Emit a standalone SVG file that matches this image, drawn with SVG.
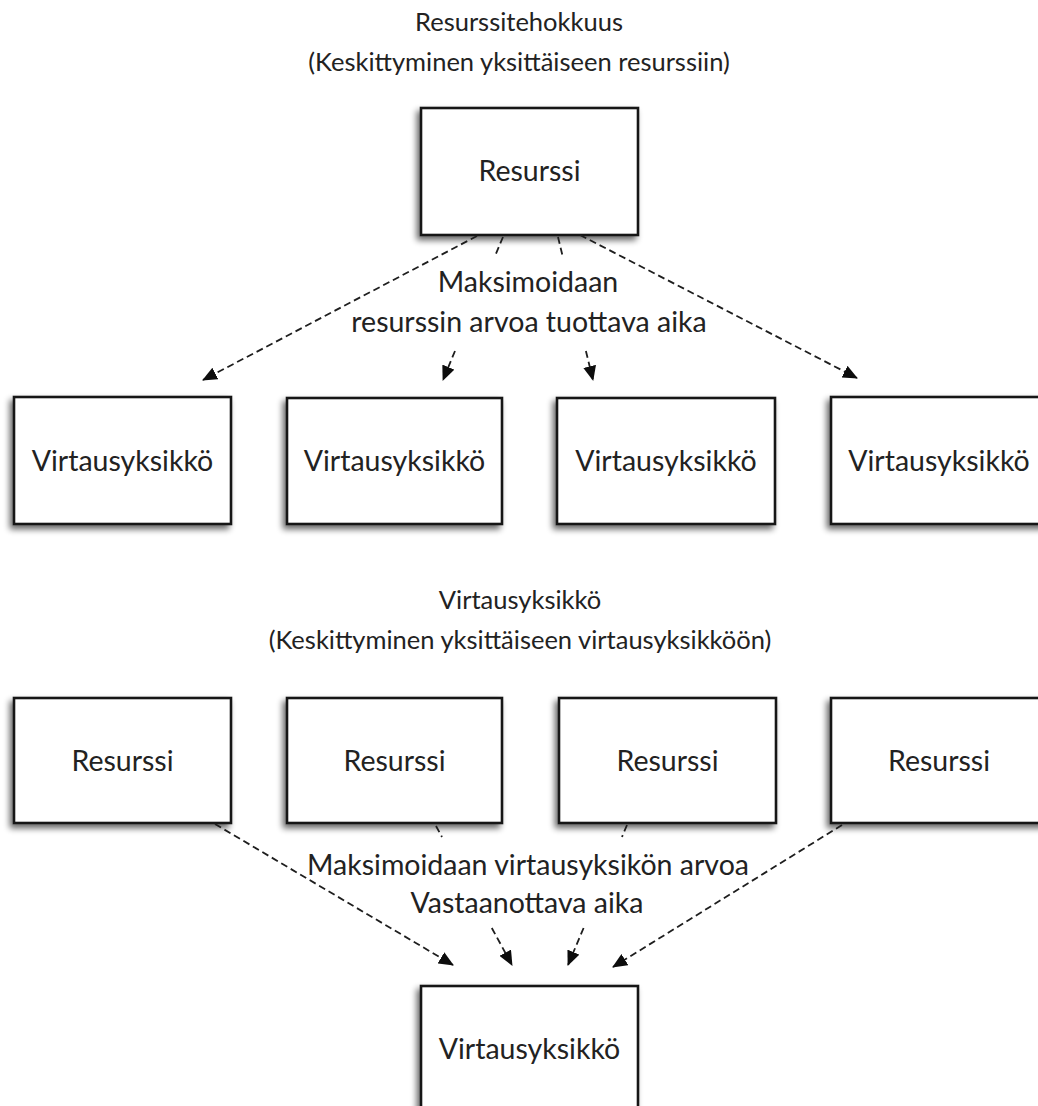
<svg xmlns="http://www.w3.org/2000/svg" width="1038" height="1106" viewBox="0 0 1038 1106">
  <style>
    .box { fill: #ffffff; stroke: #151515; stroke-width: 2.6; filter: url(#shadow); }
    .lbl { font-family: Lato, "Liberation Sans", sans-serif; font-size: 28.5px; fill: #222222; text-anchor: middle; }
    .head { font-size: 25.5px; }
    .conn { fill: none; stroke: #1e1e1e; stroke-width: 1.8; stroke-dasharray: 7 4; marker-end: url(#arrow); }
  </style>
  <defs>
    <filter id="shadow" x="-20%" y="-20%" width="140%" height="140%">
      <feGaussianBlur in="SourceAlpha" stdDeviation="3.2"/>
      <feOffset dx="-3" dy="4" result="blur"/>
      <feComponentTransfer>
        <feFuncA type="linear" slope="0.6"/>
      </feComponentTransfer>
      <feMerge>
        <feMergeNode/>
        <feMergeNode in="SourceGraphic"/>
      </feMerge>
    </filter>
    <marker id="arrow" viewBox="0 0 15 13" refX="14" refY="6.5" markerWidth="15" markerHeight="13" markerUnits="userSpaceOnUse" orient="auto">
      <path d="M0,0 L15,6.5 L0,13 z" fill="#0d0d0d"/>
    </marker>
  </defs>

  <rect width="1038" height="1106" fill="#ffffff"/>

  <!-- section headings -->
  <g id="heading-resource">
    <text class="lbl head" x="519" y="31">Resurssitehokkuus</text>
    <text class="lbl head" x="519" y="71">(Keskittyminen yksittäiseen resurssiin)</text>
  </g>
  <g id="heading-flow">
    <text class="lbl head" x="520" y="609">Virtausyksikkö</text>
    <text class="lbl head" x="520" y="649">(Keskittyminen yksittäiseen virtausyksikköön)</text>
  </g>

  <!-- upper section: one resource feeding four flow units -->
  <g id="n-resource-top">
    <rect class="box" x="421" y="108" width="217" height="127"/>
    <text class="lbl" x="529.5" y="181">Resurssi</text>
  </g>
  <g id="n-flow-1">
    <rect class="box" x="14" y="397" width="217" height="127"/>
    <text class="lbl" x="122.5" y="471">Virtausyksikkö</text>
  </g>
  <g id="n-flow-2">
    <rect class="box" x="287" y="398" width="215" height="126"/>
    <text class="lbl" x="394.5" y="471">Virtausyksikkö</text>
  </g>
  <g id="n-flow-3">
    <rect class="box" x="557" y="398" width="218" height="126"/>
    <text class="lbl" x="666" y="471">Virtausyksikkö</text>
  </g>
  <g id="n-flow-4">
    <rect class="box" x="831" y="397" width="216" height="127"/>
    <text class="lbl" x="939" y="471">Virtausyksikkö</text>
  </g>

  <!-- lower section: four resources feeding one flow unit -->
  <g id="n-resource-1">
    <rect class="box" x="14" y="698" width="217" height="125"/>
    <text class="lbl" x="122.5" y="771">Resurssi</text>
  </g>
  <g id="n-resource-2">
    <rect class="box" x="287" y="698" width="215" height="125"/>
    <text class="lbl" x="394.5" y="771">Resurssi</text>
  </g>
  <g id="n-resource-3">
    <rect class="box" x="559" y="698" width="217" height="125"/>
    <text class="lbl" x="667.5" y="771">Resurssi</text>
  </g>
  <g id="n-resource-4">
    <rect class="box" x="831" y="698" width="216" height="125"/>
    <text class="lbl" x="939" y="771">Resurssi</text>
  </g>
  <g id="n-flow-bottom">
    <rect class="box" x="421" y="986" width="217" height="127"/>
    <text class="lbl" x="529.5" y="1059">Virtausyksikkö</text>
  </g>

  <!-- connectors; the two inner ones break around the label text -->
  <g id="connectors">
    <path class="conn" d="M477,236 L203,380"/>
    <path class="conn" d="M503,237 L495,256 M455,351 L443,380"/>
    <path class="conn" d="M558,237 L562.6,256 M585.9,351 L593,380"/>
    <path class="conn" d="M580,235 L857,378"/>

    <path class="conn" d="M215,824 L453,965"/>
    <path class="conn" d="M436,826 L442,837 M491.8,928 L512,965"/>
    <path class="conn" d="M627,825 L622,837 M583.6,928 L568,965"/>
    <path class="conn" d="M842,825 L613,967"/>
  </g>

  <!-- connector labels -->
  <g id="connector-labels">
    <text class="lbl" x="528" y="292">Maksimoidaan</text>
    <text class="lbl" x="529" y="332">resurssin arvoa tuottava aika</text>
    <text class="lbl" x="528" y="875">Maksimoidaan virtausyksikön arvoa</text>
    <text class="lbl" x="527" y="913">Vastaanottava aika</text>
  </g>
</svg>
